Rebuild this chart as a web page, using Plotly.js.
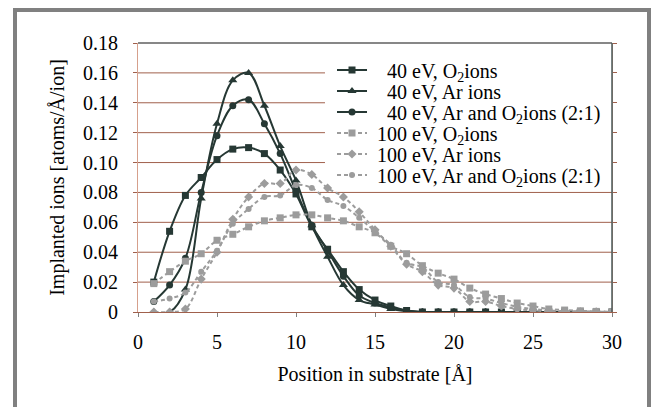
<!DOCTYPE html>
<html>
<head>
<meta charset="utf-8">
<script src="https://cdn.plot.ly/plotly-3.0.1.min.js"></script>
<style>
html,body{margin:0;padding:0;background:#fff;}
#wrap{position:relative;width:651px;height:407px;overflow:hidden;}
#chart{position:absolute;left:0;top:0;width:651px;height:407px;}
#frame{position:absolute;left:13px;top:8px;width:630px;height:420px;border:4px solid #808080;border-bottom:none;pointer-events:none;}
</style>
</head>
<body>
<div id="wrap"><div id="chart"></div><div id="frame"></div></div>
<script>
const positions = [1,2,3,4,5,6,7,8,9,10,11,12,13,14,15,16,17,18,19,20,21,22,23,24,25,26,27,28,29,30];

const o2_40eV  = [0.020,0.054,0.078,0.090,0.102,0.109,0.110,0.106,0.095,0.079,0.057,0.042,0.027,0.015,0.008,0.004,0.001,0,0,0,0,0,0,0,0,0,0,0,0,0];
const ar_40eV  = [0,0,0.015,0.076,0.126,0.155,0.160,0.138,0.111,0.088,0.058,0.037,0.018,0.008,0.005,0.002,0.0005,0,0,0,0,0,0,0,0,0,0,0,0,0];
const mix_40eV = [0.007,0.018,0.036,0.080,0.118,0.138,0.142,0.126,0.106,0.081,0.058,0.041,0.024,0.011,0.006,0.003,0.001,0,0,0,0,0,0,0,0,0,0,0,0,0];

const o2_100eV  = [0.019,0.027,0.034,0.039,0.048,0.052,0.057,0.061,0.063,0.065,0.065,0.063,0.061,0.057,0.053,0.044,0.039,0.031,0.026,0.022,0.016,0.012,0.009,0.006,0.004,0.002,0.0013,0.0008,0.0004,0.0002];
const ar_100eV  = [0,0,0.002,0.022,0.040,0.062,0.077,0.086,0.086,0.095,0.092,0.083,0.077,0.067,0.055,0.044,0.032,0.027,0.018,0.016,0.007,0.007,0.004,0.002,0.001,0.0005,0.0003,0.0002,0.0001,0];
const mix_100eV = [0.007,0.009,0.013,0.027,0.041,0.059,0.069,0.077,0.078,0.085,0.083,0.075,0.071,0.063,0.054,0.045,0.033,0.030,0.020,0.018,0.010,0.009,0.006,0.0035,0.002,0.001,0.0006,0.0004,0.0002,0.0001];

const seriesNames = [
  "\u00A0\u00A0\u00A040 eV, O<sub>2</sub>ions",
  "\u00A0\u00A0\u00A040 eV, Ar ions",
  "\u00A0\u00A0\u00A040 eV, Ar and O<sub>2</sub>ions (2:1)",
  "\u00A0100 eV, O<sub>2</sub>ions",
  "\u00A0100 eV, Ar ions",
  "\u00A0100 eV, Ar and O<sub>2</sub>ions (2:1)"
];
const yTicks = [0,0.02,0.04,0.06,0.08,0.10,0.12,0.14,0.16,0.18];
const yTickText = ["0","0.02","0.04","0.06","0.08","0.10","0.12","0.14","0.16","0.18"];
const xTicks = [0,5,10,15,20,25,30];

const dark = '#263834';
const grey = '#9c9c9c';
const gridColor = '#a0604c';
const legendLeft = 0.3945;   // paper x where the legend box starts

function tr(y, name, sym, size, col, dash, lg){
  return {x: positions, y: y, name: name, type:'scatter', mode:'lines+markers', legend: lg,
    line:{color:col, width:2, shape:'spline', smoothing:1, dash:dash},
    marker:{symbol:sym, size:size, color:col}};
}
const data = [
  tr(o2_40eV, seriesNames[0], 'square', 7, dark, 'solid', 'legend'),
  tr(ar_40eV, seriesNames[1], 'triangle-up', 8, dark, 'solid', 'legend2'),
  tr(mix_40eV, seriesNames[2], 'circle', 7, dark, 'solid', 'legend3'),
  tr(o2_100eV, seriesNames[3], 'square', 7, grey, '4px,3px', 'legend4'),
  tr(ar_100eV, seriesNames[4], 'diamond', 7, grey, '4px,3px', 'legend5'),
  tr(mix_100eV, seriesNames[5], 'circle', 6, grey, '4px,3px', 'legend6')
];
function F(s){ return {family:'Liberation Serif', size:s||20, color:'#000000'}; }
function LG(yp){
  return {x:0.4093, xanchor:'left', y:yp, yanchor:'middle', bgcolor:'rgba(255,255,255,0)', borderwidth:0,
    font:F(20), itemwidth:30};
}
// gridlines: hidden behind the legend box for the upper values
const gridShapes = yTicks.filter(v => v > 0 && v < 0.18).map(v => ({
  type:'line', xref:'paper', yref:'y', x0:0, x1:(v >= 0.095 ? legendLeft : 1), y0:v, y1:v,
  layer:'below', line:{color:gridColor, width:1}
}));

const layout = {
  width:651, height:407,
  margin:{l:138, r:39, t:43, b:95},
  paper_bgcolor:'#fff', plot_bgcolor:'#fff',
  font: F(20),
  showlegend:true,
  legend: LG(0.8996),
  legend2: LG(0.8216),
  legend3: LG(0.7435),
  legend4: LG(0.6654),
  legend5: LG(0.5874),
  legend6: LG(0.5093),
  xaxis:{range:[0,30], tickvals:xTicks, showgrid:false, zeroline:false,
    showline:true, linecolor:gridColor, linewidth:1, tickfont:F(20),
    ticks:'outside', ticklen:4, tickcolor:'#808080', ticklabelstandoff:8,
    title:{text:'Position in substrate [Å]', font:F(20), standoff:14}},
  yaxis:{range:[0,0.18], tickvals:yTicks, ticktext:yTickText, showgrid:false,
    zeroline:false, showline:true, linecolor:'#d6a08c', linewidth:1, tickfont:F(20), mirror:'ticks',
    ticks:'outside', ticklen:4, tickcolor:gridColor, ticklabelstandoff:11,
    title:{text:'Implanted ions [atoms/Å/ion]', font:F(20), standoff:13}},
  shapes: gridShapes.concat([
    {type:'line', xref:'paper', yref:'paper', x0:0, x1:1, y0:1, y1:1, line:{color:'#111', width:1.2}},
    {type:'line', xref:'paper', yref:'paper', x0:1, x1:1, y0:0, y1:1, line:{color:'#4a5a5a', width:1.5}}
  ])
};
Plotly.newPlot('chart', data, layout, {displayModeBar:false, staticPlot:true});
</script>
</body>
</html>
